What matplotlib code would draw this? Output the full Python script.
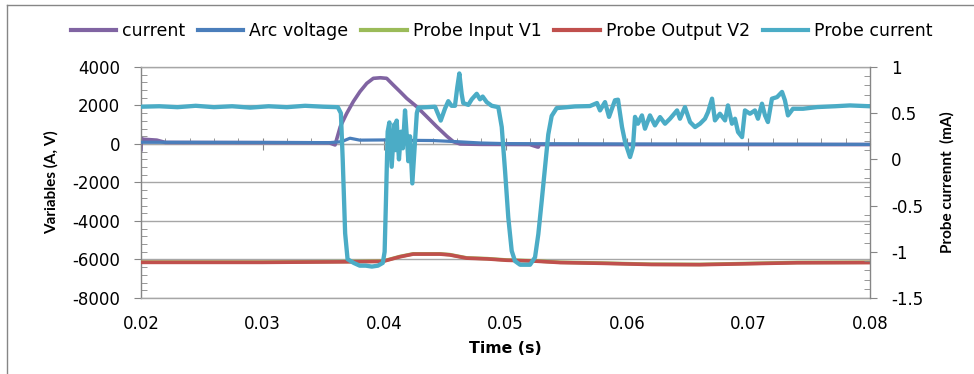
import matplotlib
matplotlib.use("Agg")
import matplotlib.pyplot as plt
from matplotlib.ticker import MultipleLocator
from matplotlib.lines import Line2D

plt.rcParams['font.family'] = ['DejaVu Sans']
plt.rcParams['axes.unicode_minus'] = False

# ---- data ------------------------------------------------------------
cur_t = [0.0200, 0.02003, 0.0201, 0.0213, 0.0220, 0.0300, 0.0355, 0.03597, 0.0364,
         0.03693, 0.03747, 0.03802, 0.03858, 0.03912, 0.0397, 0.04022, 0.04077,
         0.04132, 0.04187, 0.04269, 0.04352, 0.04434, 0.04516, 0.04571, 0.04626,
         0.0480, 0.0520, 0.0526, 0.0527, 0.0528, 0.0600, 0.0700, 0.0800]
cur_v = [-300, 300, 250, 200, 80, 70, 60, -50, 900,
         1590, 2200, 2720, 3150, 3410, 3440, 3410, 3060,
         2720, 2370, 1940, 1420, 900, 410, 120, 0,
         -20, -30, -150, -160, -30, -30, -30, -30]

arc_t = [0.020, 0.030, 0.0355, 0.0365, 0.0372, 0.0380, 0.0400, 0.0420, 0.0440,
         0.0460, 0.0480, 0.0500, 0.0600, 0.0700, 0.0800]
arc_v = [90, 80, 70, 120, 300, 200, 210, 190, 180, 120, 50, 20, 0, -10, -20]

v1_t = [0.020, 0.030, 0.0370, 0.0399, 0.0413, 0.0424, 0.0446, 0.0454, 0.0468,
        0.0485, 0.0501, 0.0523, 0.0545, 0.0580, 0.0620, 0.0660, 0.0700, 0.0740, 0.0800]
v1_v = [-6135, -6135, -6105, -6085, -5845, -5705, -5705, -5745, -5915,
        -5955, -6025, -6065, -6145, -6185, -6245, -6255, -6205, -6155, -6145]

v2_t = [0.020, 0.030, 0.0370, 0.0399, 0.0413, 0.0424, 0.0446, 0.0454, 0.0468,
        0.0485, 0.0501, 0.0523, 0.0545, 0.0580, 0.0620, 0.0660, 0.0700, 0.0740, 0.0800]
v2_v = [-6150, -6150, -6120, -6100, -5860, -5720, -5720, -5760, -5930,
        -5970, -6040, -6080, -6160, -6200, -6260, -6270, -6220, -6170, -6160]

pc_t = [0.0200, 0.0215, 0.0230, 0.0245, 0.0260, 0.0275, 0.0290, 0.0305, 0.0320,
        0.0335, 0.0350, 0.0362, 0.03645, 0.0366, 0.0368, 0.0370, 0.0375, 0.0380,
        0.0385, 0.0390, 0.0395, 0.0399,
        0.04005, 0.04015, 0.0403, 0.04044, 0.04063, 0.04085, 0.04095, 0.04104,
        0.04123, 0.0414, 0.04155, 0.04173, 0.0419, 0.0420, 0.04214, 0.04233,
        0.04255, 0.0427, 0.04282, 0.0435, 0.0442, 0.04467, 0.04502, 0.04529,
        0.04556, 0.04584, 0.04603, 0.0462, 0.04639, 0.04652, 0.04694, 0.04722,
        0.04763, 0.0479, 0.04812, 0.04845, 0.04887, 0.04941, 0.04969, 0.04996,
        0.05023, 0.05051, 0.05078, 0.0512, 0.05202, 0.05243, 0.0527, 0.05298,
        0.05325, 0.05352, 0.0538, 0.05421, 0.05572, 0.05695, 0.05753, 0.05778,
        0.05819, 0.05852, 0.05901, 0.05926, 0.05959, 0.05984, 0.06025, 0.06049,
        0.06066, 0.0609, 0.06123, 0.06148, 0.06189, 0.0623, 0.06272, 0.06313,
        0.06354, 0.06412, 0.06436, 0.06477, 0.06519, 0.0656, 0.06601, 0.06642,
        0.06667, 0.0670, 0.06724, 0.06765, 0.06807, 0.06831, 0.06864, 0.06889,
        0.06914, 0.06947, 0.06971, 0.07012, 0.07053, 0.07078, 0.07111, 0.07136,
        0.0716, 0.07193, 0.07235, 0.07276, 0.0730, 0.07325, 0.07366, 0.07449,
        0.07564, 0.07712, 0.07835, 0.0800]
pc_v = [0.570, 0.575, 0.565, 0.580, 0.565, 0.575, 0.560, 0.575, 0.565,
        0.580, 0.570, 0.565, 0.500, 0.000, -0.800, -1.080, -1.120, -1.150,
        -1.150, -1.160, -1.150, -1.120,
        -1.000, -0.500, 0.300, 0.400, -0.080, 0.380, 0.100, 0.420,
        0.000, 0.300, 0.120, 0.530, 0.200, -0.020, 0.250, -0.260,
        0.200, 0.500, 0.560, 0.565, 0.570, 0.420, 0.550, 0.630,
        0.580, 0.580, 0.780, 0.930, 0.710, 0.610, 0.590, 0.650,
        0.710, 0.650, 0.680, 0.620, 0.580, 0.565, 0.350, -0.120,
        -0.630, -0.990, -1.100, -1.140, -1.140, -1.060, -0.810, -0.450,
        -0.090, 0.270, 0.470, 0.555, 0.573, 0.577, 0.610, 0.530,
        0.620, 0.460, 0.640, 0.646, 0.350, 0.190, 0.025, 0.133,
        0.460, 0.386, 0.476, 0.332, 0.476, 0.368, 0.458, 0.386,
        0.440, 0.530, 0.440, 0.566, 0.404, 0.350, 0.386, 0.440,
        0.512, 0.657, 0.422, 0.494, 0.422, 0.584, 0.386, 0.440,
        0.296, 0.241, 0.530, 0.494, 0.530, 0.440, 0.603, 0.476,
        0.404, 0.657, 0.674, 0.730, 0.639, 0.476, 0.548, 0.548,
        0.566, 0.575, 0.584, 0.575]

x_lim = (0.02, 0.08)
left_lim = (-8000, 4000)
right_lim = (-1.5, 1.0)

# ---- styling ---------------------------------------------------------
c_cur = '#8064A2'
c_arc = '#4A7EBB'
c_v1 = '#9BBB59'
c_v2 = '#C0504D'
c_pc = '#4BACC6'
axis_grey = '#868686'
grid_grey = '#A6A6A6'

fig = plt.figure(figsize=(9.74, 3.74), dpi=100)
ax = fig.add_axes([0.1448, 0.2032, 0.7484, 0.6177])

l_cur, = ax.plot(cur_t, cur_v, color=c_cur, lw=2.6, label='current', zorder=2)
l_arc, = ax.plot(arc_t, arc_v, color=c_arc, lw=2.3, label='Arc voltage', zorder=3)
l_v1, = ax.plot(v1_t, v1_v, color=c_v1, lw=2.6, label='Probe Input V1', zorder=3)
l_v2, = ax.plot(v2_t, v2_v, color=c_v2, lw=2.6, label='Probe Output V2', zorder=4)

ax.set_xlim(*x_lim)
ax.set_ylim(*left_lim)
ax.xaxis.set_major_locator(MultipleLocator(0.01))
ax.xaxis.set_major_formatter(plt.FuncFormatter(lambda v, p: f'{v:.2f}'))
ax.yaxis.set_major_locator(MultipleLocator(2000))
ax.yaxis.set_minor_locator(MultipleLocator(400))
ax.grid(axis='y', color=grid_grey, lw=1.0)
ax.set_axisbelow(True)

for side in ('top', 'bottom', 'left'):
    ax.spines[side].set_color(axis_grey)
    ax.spines[side].set_linewidth(1.0)
ax.spines['top'].set_color(grid_grey)
ax.spines['bottom'].set_color(grid_grey)
ax.spines['right'].set_visible(False)

ax.tick_params(axis='x', which='both', length=0, labelsize=12, pad=12)
ax.tick_params(axis='y', which='major', direction='out', length=5,
               color=axis_grey, labelsize=12, pad=10)
ax.tick_params(axis='y', which='minor', direction='in', length=4.5,
               color=axis_grey, left=True)

# horizontal axis line crossing at zero
zero_pos = (0 - left_lim[0]) / (left_lim[1] - left_lim[0])
sec = ax.secondary_xaxis(zero_pos)
sec.set_alignment('bottom')
sec.xaxis.set_major_locator(MultipleLocator(0.01))
sec.xaxis.set_minor_locator(MultipleLocator(0.002))
sec.tick_params(which='major', direction='inout', length=9, color=axis_grey,
                labelbottom=False, labeltop=False)
sec.tick_params(which='minor', direction='in', length=4, color=axis_grey)
for s in sec.spines.values():
    s.set_color(axis_grey)

ax.set_xlabel('Time (s)', fontsize=11.3, fontweight='bold', labelpad=6)
ax.set_ylabel('Variables (A, V)', fontsize=11, fontweight='bold',
              family='Lato', labelpad=10)

# probe current on the secondary axis
ax2 = ax.twinx()
l_pc, = ax2.plot(pc_t, pc_v, color=c_pc, lw=3.1, label='Probe current')
ax2.set_ylim(*right_lim)
ax2.yaxis.set_major_locator(MultipleLocator(0.5))
ax2.yaxis.set_minor_locator(MultipleLocator(0.1))
ax2.yaxis.set_major_formatter(plt.FuncFormatter(lambda v, p: f'{v:g}'))
for side in ('top', 'bottom', 'left'):
    ax2.spines[side].set_visible(False)
ax2.spines['right'].set_color(axis_grey)
ax2.spines['right'].set_linewidth(1.0)
ax2.tick_params(axis='y', which='major', direction='out', length=5,
                color=axis_grey, labelsize=12, pad=10)
ax2.tick_params(axis='y', which='minor', direction='in', length=4.5,
                color=axis_grey, right=True)
ax2.set_ylabel('Probe currennt  (mA)', fontsize=11, fontweight='bold',
               family='Lato', labelpad=12)

handles = [l_cur, l_arc, l_v1, l_v2, l_pc]
leg = fig.legend(handles, [h.get_label() for h in handles], loc='center',
                 bbox_to_anchor=(0.515, 0.917), ncol=5, frameon=False,
                 fontsize=12.5, handlelength=2.6, handletextpad=0.35,
                 columnspacing=0.75, borderaxespad=0)
for h in leg.get_lines():
    h.set_linewidth(3.0)

# chart area border
fig.add_artist(Line2D([0.0072, 0.0072], [0.0, 0.987], color=axis_grey, lw=1.0))
fig.add_artist(Line2D([0.0072, 1.0], [0.987, 0.987], color=axis_grey, lw=1.0))

fig.savefig('out.png', dpi=100)
